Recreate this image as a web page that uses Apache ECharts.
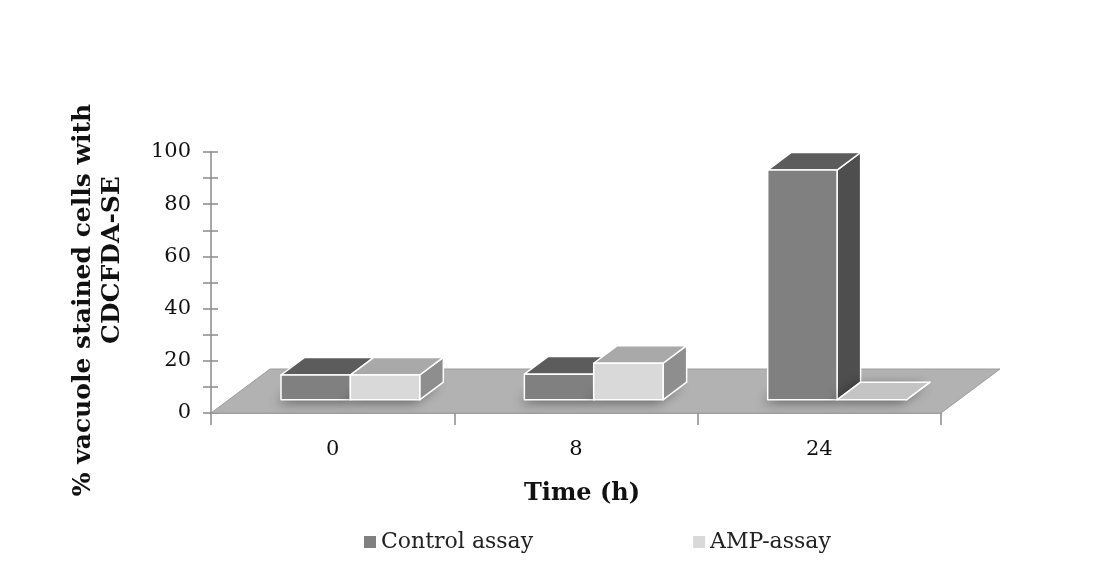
<!DOCTYPE html>
<html>
<head>
<meta charset="utf-8">
<script src="https://cdn.jsdelivr.net/npm/echarts@6/dist/echarts.min.js"></script>
<style>
  html, body { margin: 0; padding: 0; background: #ffffff; }
  #chart { width: 1100px; height: 573px; }
</style>
</head>
<body>
<div id="chart"></div>
<script>
// Time points (h) and percentage of cells with CDCFDA-SE stained vacuoles
const timePoints = ['0', '8', '24'];
const controlAssay = [9.5, 9.8, 88];
const ampAssay = [9.5, 14, 0];
const seriesNames = ['Control assay', 'AMP-assay'];
const yTicks = [0, 20, 40, 60, 80, 100];

// oblique projection of the depth direction (pixels for full floor depth)
const DEPTH_X = 59;
const DEPTH_Y = 44;
const Z_FRONT = 0.3;
const Z_BACK = 0.7;
const BAR_FRAC = 0.285;

const SERIF = '"DejaVu Serif", "Liberation Serif", serif';

const palettes = [
  { front: '#808080', top: '#5c5c5c', side: '#4e4e4e', flat: '#5c5c5c' },
  { front: '#d9d9d9', top: '#a9a9a9', side: '#8e8e8e', flat: '#c4c4c4' }
];

function renderFloor(params, api) {
  const cs = params.coordSys;
  const x0 = cs.x, x1 = cs.x + cs.width, yb = cs.y + cs.height;
  return {
    type: 'polygon',
    shape: { points: [[x0, yb], [x1, yb], [x1 + DEPTH_X, yb - DEPTH_Y], [x0 + DEPTH_X, yb - DEPTH_Y]] },
    style: { fill: '#b2b2b2', stroke: '#9c9c9c', lineWidth: 1 }
  };
}

function makeBarRenderer(slot, pal) {
  return function (params, api) {
    const cat = api.value(0);
    const val = api.value(1);
    const base = api.coord([cat, 0]);
    const top = api.coord([cat, val]);
    const band = api.size([1, 0])[0];
    const w = band * BAR_FRAC;
    const xl = base[0] + slot * w;
    const xr = xl + w;
    const fx = Z_FRONT * DEPTH_X, fy = -Z_FRONT * DEPTH_Y;
    const bx = Z_BACK * DEPTH_X, by = -Z_BACK * DEPTH_Y;
    const yT = top[1], yB = base[1];
    const hasHeight = yB - yT > 0.5;
    const edge = { stroke: '#ffffff', lineWidth: 1.5, lineJoin: 'round' };
    const children = [
      // soft shadow of the footprint on the floor
      {
        type: 'polygon',
        shape: { points: [[xl + fx, yB + fy], [xr + fx, yB + fy], [xr + bx, yB + by], [xl + bx, yB + by]] },
        style: { fill: '#a8a8a8', shadowBlur: 12, shadowColor: 'rgba(0,0,0,0.45)', shadowOffsetX: -5, shadowOffsetY: 3 }
      },
      {
        type: 'polygon',
        shape: { points: [[xr + fx, yT + fy], [xr + bx, yT + by], [xr + bx, yB + by], [xr + fx, yB + fy]] },
        style: Object.assign({ fill: pal.side }, edge)
      },
      {
        type: 'polygon',
        shape: { points: [[xl + fx, yT + fy], [xr + fx, yT + fy], [xr + bx, yT + by], [xl + bx, yT + by]] },
        style: Object.assign({ fill: hasHeight ? pal.top : pal.flat }, edge)
      }
    ];
    if (hasHeight) {
      children.push({
        type: 'rect',
        shape: { x: xl + fx, y: yT + fy, width: w, height: yB - yT },
        style: Object.assign({ fill: pal.front }, edge)
      });
    }
    return { type: 'group', children: children };
  };
}

const toPairs = arr => arr.map((v, i) => [i, v]);

const chart = echarts.init(document.getElementById('chart'), null, { renderer: 'canvas' });

chart.setOption({
  backgroundColor: '#ffffff',
  animation: false,
  grid: { left: 211, right: 159, top: 152, bottom: 160, containLabel: false },
  legend: {
    data: seriesNames,
    left: 359,
    top: 526,
    itemWidth: 12,
    itemHeight: 12,
    itemGap: 160,
    icon: 'rect',
    textStyle: { fontFamily: SERIF, fontSize: 22, color: '#222222' }
  },
  xAxis: {
    type: 'category',
    data: timePoints,
    boundaryGap: true,
    axisLine: { lineStyle: { color: '#8a8a8a', width: 1.5 } },
    axisTick: { show: true, alignWithLabel: false, length: 12, lineStyle: { color: '#8a8a8a', width: 1.5 } },
    axisLabel: { margin: 26, fontFamily: SERIF, fontSize: 21, color: '#111111' },
    name: 'Time (h)',
    nameLocation: 'middle',
    nameGap: 69,
    nameTextStyle: { fontFamily: SERIF, fontSize: 24, fontWeight: 'bold', color: '#111111', padding: [0, 0, 0, 12] }
  },
  yAxis: [
    {
      type: 'value',
      min: yTicks[0],
      max: yTicks[yTicks.length - 1],
      interval: 10,
      position: 'left',
      splitLine: { show: false },
      axisLine: { show: true, lineStyle: { color: '#8a8a8a', width: 1.5 } },
      axisTick: { show: true, length: 8, lineStyle: { color: '#8a8a8a', width: 1.5 } },
      axisLabel: {
        margin: 20,
        fontFamily: SERIF,
        fontSize: 21,
        color: '#111111',
        formatter: v => (yTicks.indexOf(v) >= 0 ? String(v) : '')
      }
    },
    {
      type: 'value',
      min: yTicks[0],
      max: yTicks[yTicks.length - 1],
      interval: 10,
      position: 'left',
      offset: 0,
      splitLine: { show: false },
      axisLine: { show: false },
      axisTick: { show: true, inside: true, length: 7, lineStyle: { color: '#8a8a8a', width: 1.5 } },
      axisLabel: { show: false }
    }
  ],
  graphic: [
    {
      type: 'text',
      x: 83, y: 300,
      rotation: Math.PI / 2,
      style: {
        text: '% vacuole stained cells with',
        font: 'bold 25px ' + SERIF,
        fill: '#111111',
        align: 'center',
        verticalAlign: 'middle'
      }
    },
    {
      type: 'text',
      x: 112, y: 260,
      rotation: Math.PI / 2,
      style: {
        text: 'CDCFDA-SE',
        font: 'bold 25px ' + SERIF,
        fill: '#111111',
        align: 'center',
        verticalAlign: 'middle'
      }
    }
  ],
  series: [
    {
      name: 'floor',
      type: 'custom',
      z: 1,
      silent: true,
      renderItem: renderFloor,
      data: [[0, 0]],
      encode: { x: 0, y: 1 }
    },
    {
      name: seriesNames[0],
      type: 'custom',
      z: 2,
      itemStyle: { color: palettes[0].front },
      renderItem: makeBarRenderer(-1, palettes[0]),
      data: toPairs(controlAssay),
      encode: { x: 0, y: 1 }
    },
    {
      name: seriesNames[1],
      type: 'custom',
      z: 3,
      itemStyle: { color: palettes[1].front },
      renderItem: makeBarRenderer(0, palettes[1]),
      data: toPairs(ampAssay),
      encode: { x: 0, y: 1 }
    }
  ]
});
</script>
</body>
</html>
